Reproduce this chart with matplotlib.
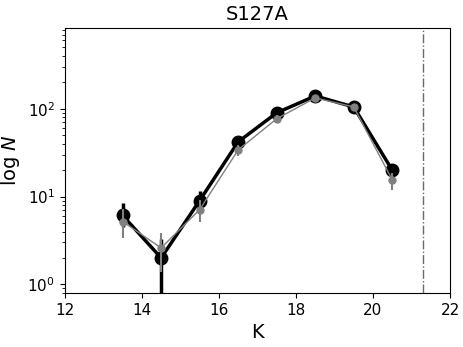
import matplotlib.pyplot as plt
import numpy as np

k = np.array([13.5, 14.5, 15.5, 16.5, 17.5, 18.5, 19.5, 20.5])

n_black = np.array([6.1, 2.0, 9.0, 42, 90, 140, 105, 20])
err_lo_black = np.array([1.6, 1.9, 2.0, 4, 6, 8, 6, 2.5])
err_hi_black = np.array([2.3, 1.3, 2.5, 5, 7, 9, 7, 3.0])

n_gray = np.array([5.2, 2.6, 7.1, 34, 77, 133, 105, 15.5])
err_lo_gray = np.array([1.8, 1.2, 2.0, 5, 7, 9, 7, 3.5])
err_hi_gray = np.array([2.0, 1.2, 2.0, 5, 7, 9, 7, 3.0])

k_limit = 21.3

fig = plt.figure(figsize=(4.63, 3.47), dpi=100)
ax = fig.add_axes([0.140, 0.156, 0.832, 0.763])

ax.errorbar(k, n_black, yerr=[err_lo_black, err_hi_black], color='black', marker='o',
            ms=9, lw=2.5, elinewidth=2.5, capsize=0, zorder=2)
ax.errorbar(k, n_gray, yerr=[err_lo_gray, err_hi_gray], color='gray', marker='o',
            ms=5, lw=1.0, elinewidth=1.5, capsize=0, zorder=3)
ax.axvline(k_limit, color='dimgray', ls='-.', lw=1)

ax.set_yscale('log')
ax.set_xlim(12, 22)
ax.set_ylim(0.8, 830)
ax.set_xticks([12, 14, 16, 18, 20, 22])
ax.tick_params(labelsize=11)
ax.set_xlabel('K', fontsize=14)
ax.set_ylabel('log $N$', fontsize=14)
ax.set_title('S127A', fontsize=14)

fig.savefig('out.png', dpi=100)
